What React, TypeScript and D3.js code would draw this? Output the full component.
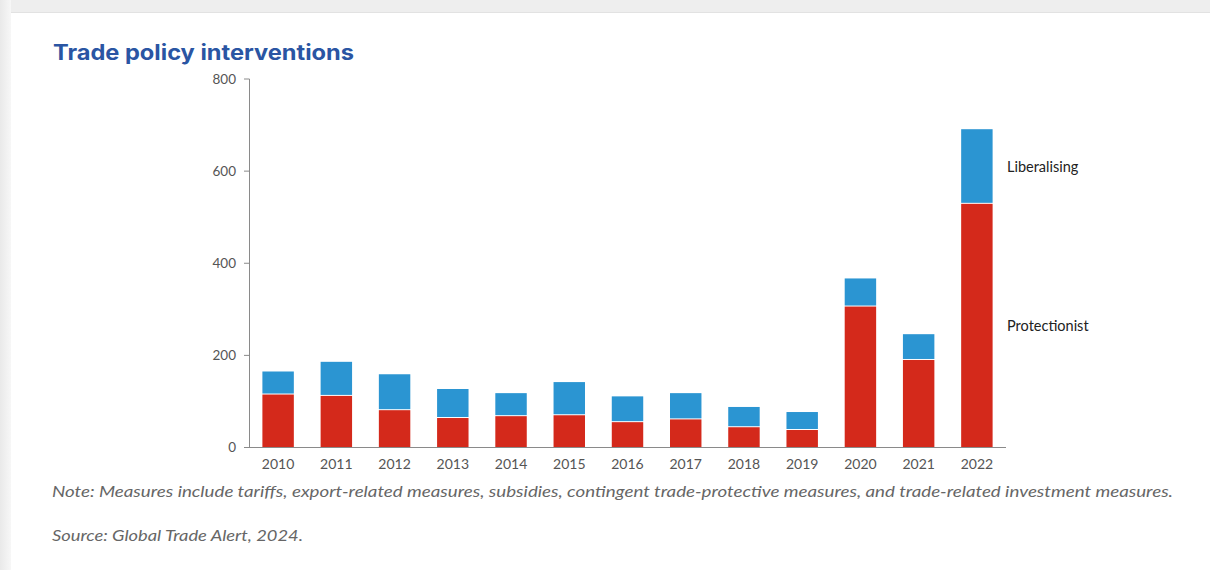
import React from "react";
import * as d3 from "d3";

// Annual counts of trade policy interventions
const years = ["2010", "2011", "2012", "2013", "2014", "2015", "2016", "2017", "2018", "2019", "2020", "2021", "2022"];
const protectionist = [115, 112, 81, 64, 68, 70, 55, 61, 44, 38, 306, 190, 529];
const liberalising = [50, 74, 78, 63, 50, 72, 56, 57, 44, 39, 61, 56, 162];
const yTicks = [0, 200, 400, 600, 800];

const seriesNames = ["Protectionist", "Liberalising"];
const seriesColors = ["#d4291b", "#2b95d2"];

const W = 1210;
const H = 570;

export default function App() {
  const x = d3
    .scaleBand<string>()
    .domain(years)
    .range([249, 1006])
    .paddingInner(0.46)
    .paddingOuter(0.23);
  const y = d3.scaleLinear().domain([0, 800]).range([447.5, 79]);

  const rows = years.map((yr, i) => ({ year: yr, Protectionist: protectionist[i], Liberalising: liberalising[i] }));
  const stacked = d3.stack<any>().keys(seriesNames)(rows);

  const last = years.length - 1;
  const labelFont = "Lato, 'Open Sans', sans-serif";
  const noteFont = "Lato, 'Noto Sans', sans-serif";

  return (
    <div style={{ position: "absolute", left: 0, top: 0, width: W, height: H }}>
      <svg width={W} height={H} style={{ display: "block" }}>
        <defs>
          <linearGradient id="leftShade" x1="0" x2="1" y1="0" y2="0">
            <stop offset="0" stopColor="#e9e9e9" />
            <stop offset="1" stopColor="#f7f7f7" />
          </linearGradient>
        </defs>
        {/* page backdrop and card */}
        <rect x={0} y={0} width={W} height={H} fill="#ffffff" />
        <rect x={0} y={0} width={W} height={12} fill="#eeeeee" />
        <rect x={0} y={0} width={11} height={H} fill="url(#leftShade)" />
        <rect x={11} y={12} width={W - 11} height={1} fill="#e2e2e2" />
        <rect x={11} y={13} width={W - 11} height={H - 13} fill="#ffffff" />

        <text
          x={53}
          y={60}
          fontFamily="Inter, 'Open Sans', sans-serif"
          fontWeight={700}
          fontSize={21}
          fill="#2a55a3"
          textLength={301}
          lengthAdjust="spacingAndGlyphs"
        >
          Trade policy interventions
        </text>

        {/* bars */}
        {stacked.map((layer, li) => (
          <g key={layer.key} fill={seriesColors[li]}>
            {layer.map((d, i) => {
              const top = y(d[1]);
              const bottom = y(d[0]) - (li > 0 ? 1 : 0);
              return (
                <rect
                  key={years[i]}
                  x={x(years[i])}
                  y={top}
                  width={x.bandwidth()}
                  height={Math.max(0, bottom - top)}
                />
              );
            })}
          </g>
        ))}

        {/* y axis */}
        <line x1={249.5} x2={249.5} y1={y(800)} y2={y(0)} stroke="#8a8a8a" strokeWidth={1} />
        {yTicks.map((t) => (
          <g key={t} transform={`translate(0,${y(t)})`}>
            <line x1={244} x2={249.5} stroke="#8a8a8a" strokeWidth={1} />
            <text
              x={236}
              dy="0.35em"
              textAnchor="end"
              fontFamily={labelFont}
              fontSize={13.5}
              fill="#555"
            >
              {t}
            </text>
          </g>
        ))}

        {/* x axis */}
        <line x1={249} x2={1006} y1={447.5} y2={447.5} stroke="#8a8a8a" strokeWidth={1} />
        {years.map((yr) => (
          <text
            key={yr}
            x={(x(yr) ?? 0) + x.bandwidth() / 2}
            y={469}
            textAnchor="middle"
            fontFamily={labelFont}
            fontSize={14}
            fill="#555"
          >
            {yr}
          </text>
        ))}

        {/* series labels beside the last bar */}
        {stacked.map((layer, li) => {
          const d = layer[last];
          return (
            <text
              key={layer.key}
              x={1007}
              y={y((d[0] + d[1]) / 2)}
              dy="0.35em"
              fontFamily={labelFont}
              fontSize={14.5}
              fill="#222"
            >
              {seriesNames[li]}
            </text>
          );
        })}

        <text
          x={52}
          y={497}
          fontFamily={noteFont}
          fontStyle="italic"
          fontSize={15}
          fill="#666"
          textLength={1121}
          lengthAdjust="spacingAndGlyphs"
        >
          Note: Measures include tariffs, export-related measures, subsidies, contingent trade-protective measures, and trade-related investment measures.
        </text>
        <text
          x={52}
          y={541}
          fontFamily={noteFont}
          fontStyle="italic"
          fontSize={15}
          fill="#666"
          textLength={251}
          lengthAdjust="spacingAndGlyphs"
        >
          Source: Global Trade Alert, 2024.
        </text>
      </svg>
    </div>
  );
}
